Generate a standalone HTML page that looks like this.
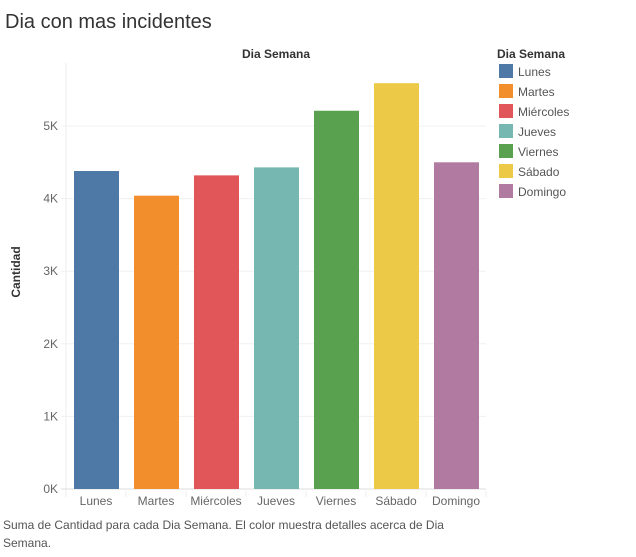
<!DOCTYPE html>
<html><head><meta charset="utf-8"><style>
body{margin:0;background:#fff;font-family:"Liberation Sans",sans-serif;}
svg text{font-family:"Liberation Sans",sans-serif;}
</style></head><body>
<svg width="636" height="552">
<text x="5" y="28" font-size="20" fill="#333">Dia con mas incidentes</text>
<text x="276" y="58" font-size="12" font-weight="bold" fill="#333" text-anchor="middle">Dia Semana</text>
<text transform="translate(20,272) rotate(-90)" font-size="12" font-weight="bold" fill="#333" text-anchor="middle">Cantidad</text>
<g id="grid"></g><g id="bars"></g><g id="xl"></g><g id="legend"></g>
<text x="3" y="529" font-size="12" fill="#555">Suma de Cantidad para cada Dia Semana. El color muestra detalles acerca de Dia</text>
<text x="3" y="547" font-size="12" fill="#555">Semana.</text>
</svg>
<script>
const categories=["Lunes","Martes","Miércoles","Jueves","Viernes","Sábado","Domingo"];
const values=[4380,4040,4320,4430,5210,5590,4500];
const colors=["#4e79a7","#f28e2b","#e15759","#76b7b2","#59a14f","#edc948","#b07aa1"];
const ticks=[0,1000,2000,3000,4000,5000];
const tickLabels=["0K","1K","2K","3K","4K","5K"];
const NS="http://www.w3.org/2000/svg";
const x0=66,step=60,base=489,k=72.6/1000,plotTop=63;
const y=v=>base-v*k;
function mk(t,a,p){const e=document.createElementNS(NS,t);for(const n in a)e.setAttribute(n,a[n]);p.appendChild(e);return e;}
const g=document.getElementById('grid');
mk('line',{x1:x0,x2:x0,y1:plotTop,y2:base+8,stroke:'#eee'},g);
ticks.forEach((t,i)=>{
 const l=mk('line',{x1:x0-5,x2:486,y1:y(t),y2:y(t),stroke:i?'#f0f0f0':'#ddd'},g);
 
 
 const tx=mk('text',{x:x0-8,y:y(t)+4,'font-size':12,fill:'#666','text-anchor':'end'},g);tx.textContent=tickLabels[i];
 
 
});
const b=document.getElementById('bars'),xl=document.getElementById('xl'),lg=document.getElementById('legend');
categories.forEach((c,i)=>{
 const r=mk('rect',{x:x0+i*step+8,y:y(values[i]),width:45,height:values[i]*k,fill:colors[i]},b);
 
 
 mk('line',{x1:x0+(i+1)*step,x2:x0+(i+1)*step,y1:base+2,y2:base+8,stroke:'#eee'},g);
 const t=mk('text',{x:x0+i*step+30,y:505,'font-size':12,fill:'#666','text-anchor':'middle'},xl);t.textContent=c;
 
 
 const s=mk('rect',{x:499,y:64+i*20,width:14,height:14,fill:colors[i]},lg);
 
 
 const lt=mk('text',{x:518,y:76+i*20,'font-size':12,fill:'#555'},lg);lt.textContent=c;
 
 
});
const lh=mk('text',{x:497,y:58,'font-size':12,'font-weight':'bold',fill:'#333'},lg);lh.textContent="Dia Semana";


</script>
</body></html>
